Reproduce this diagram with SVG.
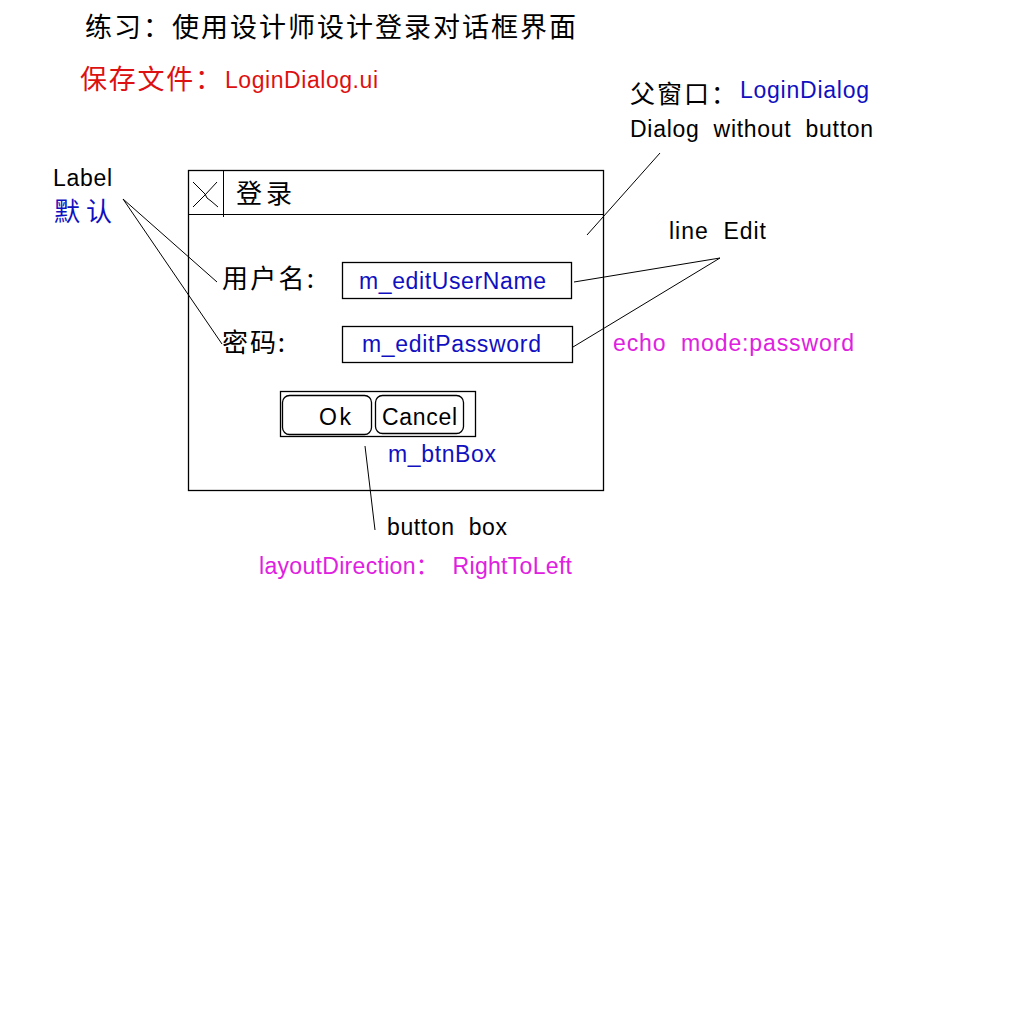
<svg xmlns="http://www.w3.org/2000/svg" width="1024" height="1024" viewBox="0 0 1024 1024">
<style>
text{white-space:pre;}
.cjk{font-family:"Noto Sans CJK SC","Liberation Sans",sans-serif;}
.lat{font-family:"Liberation Sans","Noto Sans CJK SC",sans-serif;}
.blk{fill:#000000;}
.blu{fill:#1010c0;}
.mag{fill:#e020e0;}
.red{fill:#dd1111;}
.ln{stroke:#000000;stroke-width:1;fill:none;}
.box{stroke:#000000;stroke-width:1.3;fill:#ffffff;}
</style>
<rect width="1024" height="1024" fill="#ffffff"/>

<g id="title">
<text class="cjk blk" x="85" y="37" font-size="27" textLength="491" lengthAdjust="spacing">练习：使用设计师设计登录对话框界面</text>
</g>
<g id="save-file">
<text class="cjk red" x="80" y="89" font-size="27" textLength="142" lengthAdjust="spacing">保存文件：</text>
<text class="lat red" x="225" y="88" font-size="23" textLength="153" lengthAdjust="spacing">LoginDialog.ui</text>
</g>

<g id="dialog">
<rect class="box" x="188.5" y="170.5" width="415" height="320"/>
<line class="ln" x1="188" y1="214.5" x2="603" y2="214.5" stroke-width="1.3"/>
<line class="ln" x1="223.5" y1="170" x2="223.5" y2="217"/>
<path class="ln" d="M193,182 L205,194 L207,198 L211,201 L218,207"/>
<path class="ln" d="M193,207 L205,195 L217,182"/>
<text class="cjk blk" x="236" y="203" font-size="26" textLength="56" lengthAdjust="spacing">登录</text>
</g>

<g id="label-username">
<text class="cjk blk" x="222" y="288" font-size="26" textLength="92" lengthAdjust="spacing">用户名:</text>
</g>
<g id="label-password">
<text class="cjk blk" x="222" y="352" font-size="26" textLength="63" lengthAdjust="spacing">密码:</text>
</g>

<g id="edit-username">
<rect class="box" x="342.5" y="262.5" width="229" height="36"/>
<text class="lat blu" x="359" y="289" font-size="23" textLength="187" lengthAdjust="spacing">m_editUserName</text>
</g>
<g id="edit-password">
<rect class="box" x="342.5" y="326.5" width="230" height="36"/>
<text class="lat blu" x="362" y="352" font-size="23" textLength="179" lengthAdjust="spacing">m_editPassword</text>
</g>

<g id="button-box">
<rect class="box" x="280.5" y="391.5" width="195" height="45"/>
<rect class="box" x="282.5" y="395.5" width="89" height="39" rx="7"/>
<rect class="box" x="375.5" y="395.5" width="88" height="38" rx="7"/>
<text class="lat blk" x="319" y="425" font-size="23" textLength="32" lengthAdjust="spacing">Ok</text>
<text class="lat blk" x="382" y="425" font-size="23" textLength="75" lengthAdjust="spacing">Cancel</text>
<text class="lat blu" x="388" y="462" font-size="23" textLength="108" lengthAdjust="spacing">m_btnBox</text>
</g>

<g id="note-parent">
<text class="cjk blk" x="630" y="103" font-size="25" textLength="106" lengthAdjust="spacing">父窗口：</text>
<text class="lat blu" x="740" y="98" font-size="23" textLength="129" lengthAdjust="spacing">LoginDialog</text>
<text class="lat blk" x="630" y="137" font-size="23" textLength="243" lengthAdjust="spacing">Dialog&#160; without&#160; button</text>
</g>
<g id="note-lineedit">
<text class="lat blk" x="669" y="239" font-size="23" textLength="97" lengthAdjust="spacing">line&#160; Edit</text>
</g>
<g id="note-echo">
<text class="lat mag" x="613" y="351" font-size="23" textLength="241" lengthAdjust="spacing">echo&#160; mode:password</text>
</g>
<g id="note-label">
<text class="lat blk" x="53" y="186" font-size="23" textLength="59" lengthAdjust="spacing">Label</text>
<text class="cjk blu" x="54" y="221" font-size="26" textLength="58" lengthAdjust="spacing">默认</text>
</g>
<g id="note-buttonbox">
<text class="lat blk" x="387" y="535" font-size="23" textLength="120" lengthAdjust="spacing">button&#160; box</text>
<text class="lat mag" x="259" y="574" font-size="23" textLength="313" lengthAdjust="spacing">layoutDirection：&#160; RightToLeft</text>
</g>

<g id="connectors">
<line class="ln" x1="123" y1="199" x2="217" y2="282"/>
<line class="ln" x1="123" y1="199" x2="222" y2="344"/>
<line class="ln" x1="587" y1="235" x2="660" y2="153"/>
<line class="ln" x1="574" y1="282" x2="720" y2="258"/>
<line class="ln" x1="573" y1="347" x2="720" y2="258"/>
<line class="ln" x1="365" y1="446" x2="375" y2="530"/>
</g>
</svg>
